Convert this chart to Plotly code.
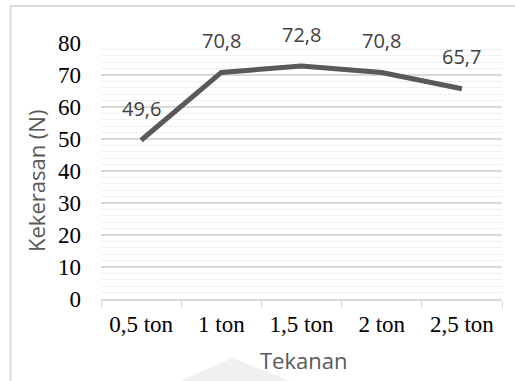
import plotly.graph_objects as go

categories = ["0,5 ton", "1 ton", "1,5 ton", "2 ton", "2,5 ton"]
values = [49.6, 70.8, 72.8, 70.8, 65.7]
value_labels = ["49,6", "70,8", "72,8", "70,8", "65,7"]
y_ticks = [0, 10, 20, 30, 40, 50, 60, 70, 80]

fig = go.Figure()
fig.add_trace(go.Scatter(
    x=categories, y=values, mode="lines",
    line=dict(color="#595959", width=5),
    hoverinfo="skip", showlegend=False,
))

for c, v, t in zip(categories, values, value_labels):
    fig.add_annotation(x=c, y=v, text=t, showarrow=False, yshift=32,
                       xanchor="center", yanchor="middle",
                       font=dict(family="Open Sans", size=20, color="#404040"))

L, R, T, B = 101, 13, 43, 82
W, H = 515, 381
pw, ph = W - L - R, H - T - B


def px(x):
    return (x - L) / pw


def py(y):
    return (H - B - y) / ph


# outer chart border (top and left edges visible)
fig.add_shape(type="line", xref="paper", yref="paper",
              x0=px(10), x1=px(W + 5), y0=py(6), y1=py(6),
              line=dict(color="#d9d9d9", width=2), layer="below")
fig.add_shape(type="line", xref="paper", yref="paper",
              x0=px(10.5), x1=px(10.5), y0=py(6), y1=py(H + 5),
              line=dict(color="#d9d9d9", width=2), layer="below")

# faint watermark shape at the bottom
fig.add_shape(type="path", xref="paper", yref="paper",
              path=f"M {px(178)} {py(382)} L {px(232)} {py(358)} L {px(292)} {py(382)} Z",
              fillcolor="#f0f0f0", line=dict(width=0), layer="below")

fig.add_annotation(xref="paper", yref="paper", x=px(303), y=py(360),
                   xanchor="center", yanchor="middle",
                   text="Tekanan", showarrow=False,
                   font=dict(family="Open Sans", size=22, color="#595959"))
fig.add_annotation(xref="paper", yref="paper", x=px(36), y=py(181),
                   xanchor="center", yanchor="middle",
                   text="Kekerasan (N)", showarrow=False, textangle=-90,
                   font=dict(family="Open Sans", size=22, color="#595959"))

fig.update_layout(
    width=W, height=H,
    margin=dict(l=L, r=R, t=T, b=B),
    paper_bgcolor="white", plot_bgcolor="white",
    xaxis=dict(
        type="category", tickson="boundaries", ticks="outside", ticklen=7,
        tickcolor="#d9d9d9", showline=True, linecolor="#d9d9d9", linewidth=1.5,
        showgrid=False, tickfont=dict(family="Liberation Serif", size=23, color="black"),
        range=[-0.5, 4.5], ticklabelstandoff=4,
    ),
    yaxis=dict(
        range=[0, 80], tickvals=y_ticks, ticks="", showline=False,
        gridcolor="#d9d9d9", gridwidth=1.5, zeroline=False,
        minor=dict(dtick=2, showgrid=True, gridcolor="#f0f0f0", gridwidth=1),
        tickfont=dict(family="Liberation Serif", size=23, color="black"),
        ticklabelstandoff=19,
    ),
)

fig.write_html("out.html", config={"displayModeBar": False},
               post_script="document.body.style.margin='0';")
